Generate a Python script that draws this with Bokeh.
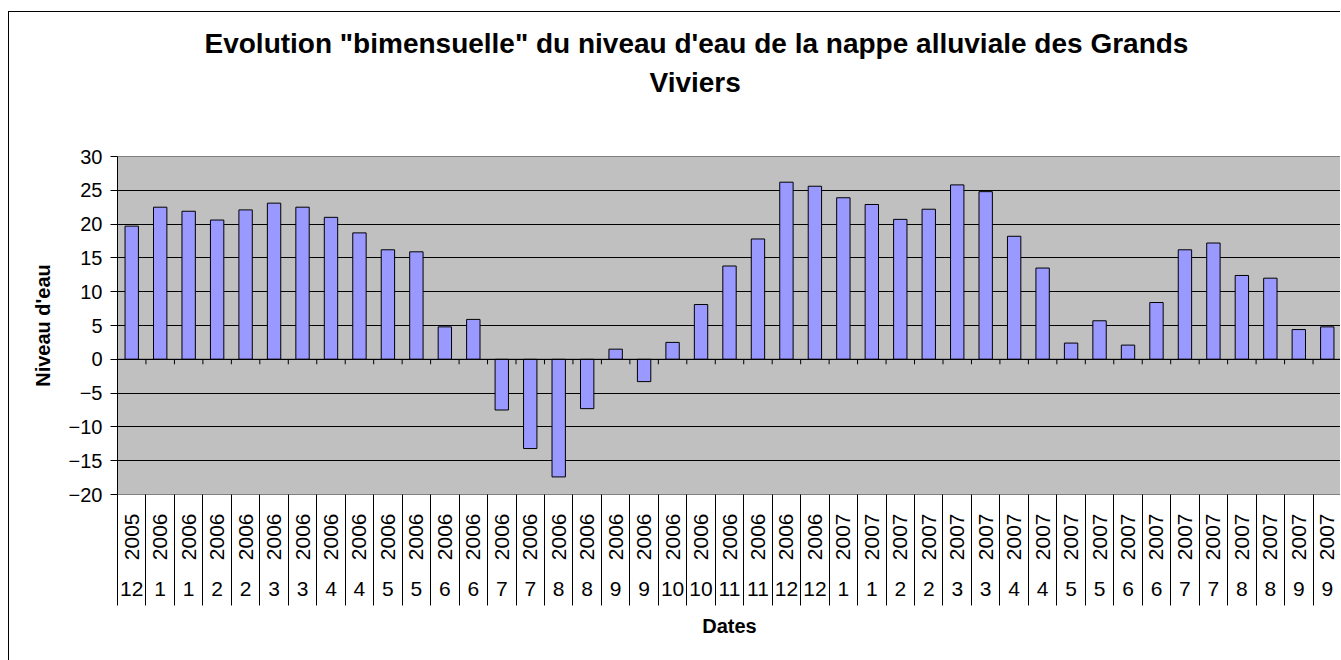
import math
from bokeh.plotting import figure
from bokeh.models import (Range1d, FixedTicker, LinearAxis, Span, Title)
from bokeh.embed import file_html
from bokeh.resources import INLINE

years = ["2005", "2006", "2006", "2006", "2006", "2006", "2006", "2006", "2006",
         "2006", "2006", "2006", "2006", "2006", "2006", "2006", "2006", "2006",
         "2006", "2006", "2006", "2006", "2006", "2006", "2006", "2007", "2007",
         "2007", "2007", "2007", "2007", "2007", "2007", "2007", "2007", "2007",
         "2007", "2007", "2007", "2007", "2007", "2007", "2007"]
months = ["12", "1", "1", "2", "2", "3", "3", "4", "4", "5", "5", "6", "6",
          "7", "7", "8", "8", "9", "9", "10", "10", "11", "11", "12", "12",
          "1", "1", "2", "2", "3", "3", "4", "4", "5", "5", "6", "6",
          "7", "7", "8", "8", "9", "9"]
niveau = [19.7, 22.5, 21.9, 20.6, 22.1, 23.1, 22.5, 21.0, 18.7, 16.2, 15.9,
          4.8, 5.9, -7.5, -13.2, -17.4, -7.3, 1.5, -3.3, 2.5, 8.1,
          13.8, 17.8, 26.2, 25.6, 23.9, 22.9, 20.7, 22.2, 25.8, 24.8,
          18.2, 13.5, 2.4, 5.7, 2.1, 8.4, 16.2, 17.2, 12.4, 12.0, 4.4, 4.8]
y_ticks = [-20, -15, -10, -5, 0, 5, 10, 15, 20, 25, 30]

title_line1 = 'Evolution "bimensuelle" du niveau d\'eau de la nappe alluviale des Grands'
title_line2 = "Viviers"
x_title = "Dates"
y_title = "Niveau d'eau"

n = len(niveau)
idx = list(range(n))
bounds = [i - 0.5 for i in range(n + 1)]

FONT = "Liberation Sans"

p = figure(width=1332, height=649, output_backend="svg", toolbar_location=None,
           x_range=Range1d(-0.5, n - 0.5), y_range=Range1d(-20, 30),
           min_border_left=108, min_border_right=0, min_border_top=0,
           min_border_bottom=167, background_fill_color="#C0C0C0",
           border_fill_color="white", outline_line_color="#808080",
           x_axis_type=None)
p.styles = {"border-left": "1px solid black", "border-top": "1px solid black",
            "margin-top": "11px", "margin-left": "8px"}

# titles (first added = closest to the plot)
spacer_low = Title(text=" ", text_font_size="2px", standoff=53)
t2 = Title(text=title_line2, align="left", text_font=FONT, text_font_size="28px",
           text_font_style="bold", text_color="black", standoff=4, offset=532)
t1 = Title(text=title_line1, align="left", text_font=FONT, text_font_size="28px",
           text_font_style="bold", text_color="black", standoff=8, offset=87)
spacer_top = Title(text=" ", text_font_size="2px", standoff=5)
p.add_layout(spacer_low, "above")
p.add_layout(t2, "above")
p.add_layout(t1, "above")
p.add_layout(spacer_top, "above")

# grid
p.xgrid.visible = False
p.ygrid.ticker = FixedTicker(ticks=y_ticks)
p.ygrid.grid_line_color = "black"
p.ygrid.grid_line_width = 1

# y axis
ya = p.yaxis[0]
ya.ticker = FixedTicker(ticks=y_ticks)
ya.major_tick_out = 7
ya.major_tick_in = 0
ya.minor_tick_line_color = None
ya.axis_line_color = "black"
ya.major_tick_line_color = "black"
ya.major_label_text_font = FONT
ya.major_label_text_font_size = "20px"
ya.major_label_text_color = "black"
ya.major_label_standoff = 8
ya.axis_label = y_title
ya.axis_label_text_font = FONT
ya.axis_label_text_font_size = "20px"
ya.axis_label_text_font_style = "bold"
ya.axis_label_text_color = "black"
ya.axis_label_standoff = 12

# year axis (first below)
year_axis = LinearAxis(ticker=FixedTicker(ticks=idx, minor_ticks=bounds),
                       major_label_overrides={i: years[i] for i in idx},
                       major_label_orientation=math.pi / 2,
                       major_tick_out=0, major_tick_in=0,
                       minor_tick_out=70, minor_tick_in=0,
                       minor_tick_line_color="black",
                       axis_line_color=None,
                       major_label_text_font=FONT,
                       major_label_text_font_size="21px",
                       major_label_text_color="black",
                       major_label_standoff=-51)
p.add_layout(year_axis, "below")

month_axis = LinearAxis(ticker=FixedTicker(ticks=idx, minor_ticks=bounds),
                        major_label_overrides={i: months[i] for i in idx},
                        major_tick_out=0, major_tick_in=0,
                        minor_tick_out=42, minor_tick_in=0,
                        minor_tick_line_color="black",
                        axis_line_color=None,
                        major_label_text_font=FONT,
                        major_label_text_font_size="21px",
                        major_label_text_color="black",
                        major_label_standoff=-24,
                        axis_label=x_title,
                        axis_label_text_font=FONT,
                        axis_label_text_font_size="20px",
                        axis_label_text_font_style="bold",
                        axis_label_text_color="black",
                        axis_label_standoff=16)
p.add_layout(month_axis, "below")

# bars
p.vbar(x=idx, top=niveau, bottom=0, width=0.47, fill_color="#9999FF",
       line_color="black", line_width=1)

# category axis line at zero with small ticks
p.add_layout(Span(location=0, dimension="width", line_color="black", line_width=1))
p.segment(x0=bounds, y0=[0] * len(bounds), x1=bounds, y1=[-0.74] * len(bounds),
          line_color="black", line_width=1)

open("out.html", "w").write(file_html(p, INLINE))
